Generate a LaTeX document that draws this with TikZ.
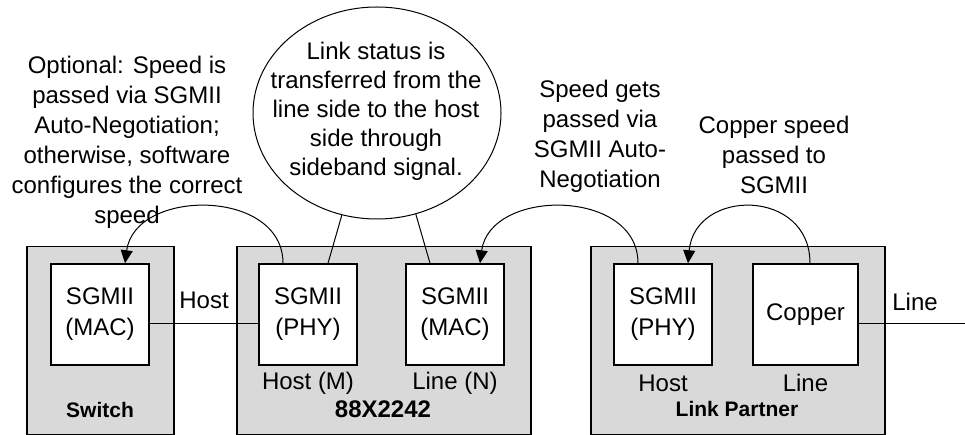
\documentclass[tikz,border=0pt]{standalone}
\usepackage{fontspec}
\setmainfont{Liberation Sans}
\usetikzlibrary{arrows.meta,shapes.geometric}
\definecolor{boxgray}{RGB}{217,217,217}
\begin{document}
\begin{tikzpicture}[x=1pt,y=-1pt,
  outer/.style={draw=black, line width=1.5pt, fill=boxgray, inner sep=0pt, anchor=north west},
  inbox/.style={draw=black, line width=1.5pt, fill=white, inner sep=0pt, align=center,
     minimum height=101pt, font=\fontsize{24}{31}\selectfont},
  lbl/.style={inner sep=0pt, align=center, font=\fontsize{24}{30}\selectfont},
  blbl/.style={inner sep=0pt, font=\bfseries\fontsize{21}{25}\selectfont},
  conn/.style={line width=1pt},
  arr/.style={line width=1pt, -{Triangle[length=13pt,width=12pt]}}]
\useasboundingbox (0,0) rectangle (965,435);

% outer boxes
\node[outer, minimum width=147pt, minimum height=188pt] (swbox) at (26,246) {};
\node[outer, minimum width=294pt, minimum height=188pt] (chipbox) at (236,246) {};
\node[outer, minimum width=294pt, minimum height=188pt] (lpbox) at (590,246) {};

% inner boxes
\node[inbox, minimum width=98pt] (sw) at (100,314.5) {SGMII\\(MAC)};
\node[inbox, minimum width=98pt] (phy) at (308,314.5) {SGMII\\(PHY)};
\node[inbox, minimum width=98pt] (mac) at (455,314.5) {SGMII\\(MAC)};
\node[inbox, minimum width=98pt] (lpphy) at (663,314.5) {SGMII\\(PHY)};
\node[inbox, minimum width=105pt] (cu) at (805.5,314.5) {Copper};

% labels in boxes
\node[lbl] (hostm) at (308,383) {Host (M)};
\node[lbl] (linen) at (455,383) {Line (N)};
\node[lbl] (lphost) at (663,383) {Host};
\node[lbl] (lpline) at (805.5,383) {Line};
\node[blbl] (swname) at (100,410) {Switch};
\node[inner sep=0pt, font=\bfseries\fontsize{24}{28}\selectfont] (chipname) at (383,409) {88X2242};
\node[blbl] (lpname) at (737,409) {Link Partner};

% host / line connections
\draw[conn] ([yshift=-8.5pt]sw.east) -- ([yshift=-8.5pt]phy.west);
\node[lbl] (hostlbl) at (204,300) {Host};
\coordinate (lineend) at (965,323.5);
\draw[conn] ([yshift=-9pt]cu.east) -- (lineend);
\node[lbl] (linelbl) at (915,302) {Line};

% callout ellipse
\node[draw=black, line width=1pt, ellipse, minimum width=248pt, minimum height=212pt, inner sep=0pt] (ell) at (377,113) {};
\node[lbl, font=\fontsize{24}{29}\selectfont] (elltext) at (376,111)
  {Link status is\\transferred from the\\line side to the host\\side through\\sideband signal.};
\draw[conn] (ell.251) -- ([xshift=20pt]phy.north);
\draw[conn] (ell.291) -- ([xshift=-25pt]mac.north);

% annotations
\node[lbl] (opttext) at (127,142)
  {Optional: Speed is\\passed via SGMII\\Auto-Negotiation;\\otherwise, software\\configures the correct\\speed};
\node[lbl] (sgtext) at (600,136) {Speed gets\\passed via\\SGMII Auto-\\Negotiation};
\node[lbl] (cutext) at (774,155) {Copper speed\\passed to\\SGMII};

% arrows
\draw[arr] ([xshift=-25pt]phy.north) .. controls (283,188) and (135,188) .. ([xshift=25pt]sw.north);
\draw[arr] ([xshift=-25pt]lpphy.north) .. controls (638,188) and (490,188) .. ([xshift=25pt]mac.north);
\draw[arr] ([xshift=4.5pt]cu.north) .. controls (810,188) and (695,188) .. ([xshift=25pt]lpphy.north);
\end{tikzpicture}
\end{document}
